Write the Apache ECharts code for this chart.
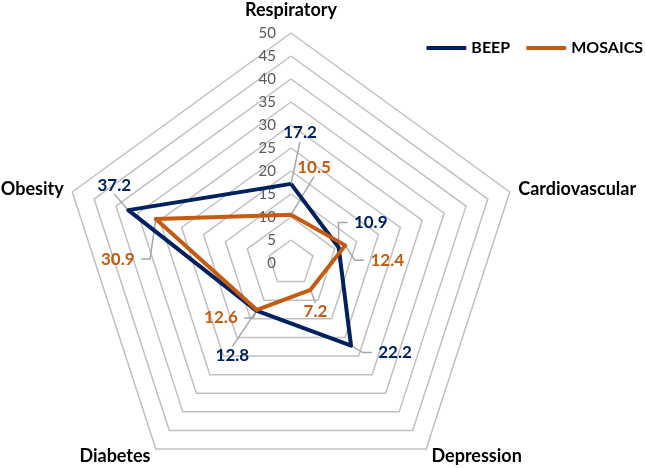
<!DOCTYPE html>
<html><head><meta charset="utf-8">
<script src="https://cdn.jsdelivr.net/npm/echarts@6/dist/echarts.min.js"></script>
<style>html,body{margin:0;padding:0;background:#fff}#c{width:645px;height:469px}</style>
</head><body><div id="c"></div>
<script>
// ---- data ----
const categories = ['Respiratory', 'Cardiovascular', 'Depression', 'Diabetes', 'Obesity'];
const seriesNames = ['BEEP', 'MOSAICS'];
const beepValues = [17.2, 10.9, 22.2, 12.8, 37.2];
const mosaicsValues = [10.5, 12.4, 7.2, 12.6, 30.9];
const tickLabels = [0, 5, 10, 15, 20, 25, 30, 35, 40, 45, 50];

// ---- style ----
const colors = ['#002060', '#c55a11'];
const FONT = 'Lato';
const CENTER = [291, 263];
const RADIUS = 230;
// label offsets (px) from each point, per series, in category order
const labelOffsets = [
  [[9, -51], [32, -25], [44, 7], [-24, 45], [-14, -25]],
  [[23, -47], [42, 15], [5, 22], [-36, 8], [-38, 40]]
];
const nameGaps = [14, 9, 9, 9, 9];

const n = categories.length;
// ECharts radar places indicators counter-clockwise; reorder to draw clockwise
const order = [0].concat(categories.slice(1).map((_, i) => n - 1 - i));
const allValues = [beepValues, mosaicsValues];
const maxV = tickLabels[tickLabels.length - 1];

const indicators = order.map((ci, k) => ({
  name: categories[ci], max: maxV, min: tickLabels[0],
  nameGap: nameGaps[ci],
  axisLabel: { show: k === 0 }
}));

const radarSeriesData = allValues.map((vals, s) => ({
  name: seriesNames[s],
  value: order.map(ci => vals[ci]),
  lineStyle: { color: colors[s], width: 4, join: 'round' },
  itemStyle: { color: colors[s] }
}));

// label data for custom series: [radius, angle, seriesIdx, catIdx]
const labelData = [];
allValues.forEach((vals, s) => vals.forEach((v, ci) => {
  labelData.push([v, ci * 360 / n, s, ci]);
}));

const chart = echarts.init(document.getElementById('c'), null, { renderer: 'canvas' });
chart.setOption({
  animation: false,
  backgroundColor: '#fff',
  legend: {
    data: seriesNames,
    right: 2, top: 40, padding: 0,
    itemWidth: 40, itemHeight: 4, itemGap: 16,
    icon: 'roundRect',
    textStyle: { fontFamily: FONT, fontWeight: 'bold', fontSize: 16, color: '#000' }
  },
  radar: {
    center: CENTER,
    radius: RADIUS,
    startAngle: 90,
    splitNumber: tickLabels.length - 1,
    shape: 'polygon',
    nameGap: 9,
    axisName: { color: '#000', fontFamily: FONT, fontWeight: 'bold', fontSize: 18 },
    axisLine: { show: false },
    axisTick: { show: false },
    axisLabel: { show: false, color: '#595959', fontFamily: FONT, fontSize: 15, margin: 15 },
    splitLine: { lineStyle: { color: '#c0c0c0', width: 1.5 } },
    splitArea: { show: false },
    indicator: indicators
  },
  polar: { center: CENTER, radius: RADIUS },
  angleAxis: { type: 'value', min: 0, max: 360, startAngle: 90, clockwise: true, show: false },
  radiusAxis: { type: 'value', min: tickLabels[0], max: maxV, show: false },
  series: [
    {
      type: 'radar',
      symbol: 'none',
      data: radarSeriesData,
      z: 3
    },
    {
      type: 'custom',
      coordinateSystem: 'polar',
      data: labelData,
      z: 2,
      silent: true,
      renderItem: function (params, api) {
        const v = api.value(0), a = api.value(1);
        const s = api.value(2), ci = api.value(3);
        const p = api.coord([v, a]);
        const off = labelOffsets[s][ci];
        const lx = p[0] + off[0], ly = p[1] + off[1];
        const txt = String(v.toFixed(1));
        const w = txt.length * 4.8 + 2, h = 9;
        let pts;
        if (Math.abs(off[0]) > w + 9) {
          const sx = off[0] > 0 ? lx - w - 2 : lx + w + 2;
          const hx = off[0] > 0 ? sx - 9 : sx + 9;
          pts = [[sx, ly], [hx, ly], [p[0], p[1]]];
        } else {
          const sy = off[1] > 0 ? ly - h : ly + h;
          pts = [[lx, sy], [p[0], p[1]]];
        }
        return {
          type: 'group',
          children: [
            { type: 'polyline', shape: { points: pts }, style: { stroke: '#a6a6a6', lineWidth: 1.5, fill: null } },
            { type: 'text', x: lx, y: ly, style: { text: txt, fill: colors[s], font: 'bold 17px ' + FONT, align: 'center', verticalAlign: 'middle' } }
          ]
        };
      }
    }
  ]
});
</script></body></html>
